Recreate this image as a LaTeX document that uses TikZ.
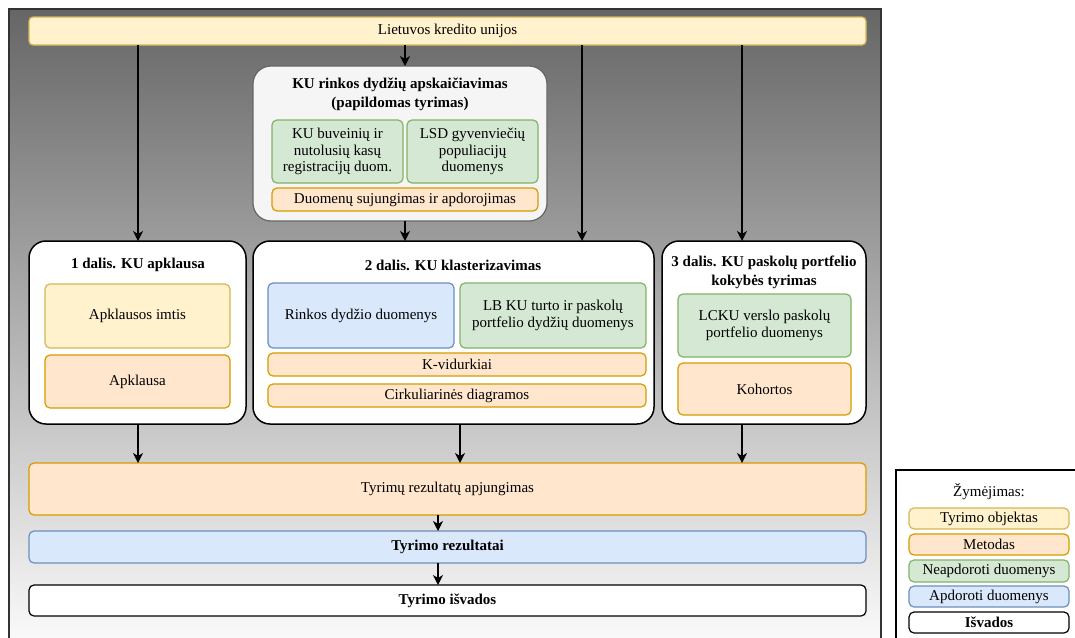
\documentclass[tikz,border=0pt]{standalone}
\usepackage{fontspec}
\setmainfont{Liberation Serif}
\usetikzlibrary{arrows.meta}

\definecolor{yfill}{HTML}{FFF2CC}\definecolor{ydraw}{HTML}{D6B656}
\definecolor{ofill}{HTML}{FFE6CC}\definecolor{odraw}{HTML}{D79B00}
\definecolor{gfill}{HTML}{D5E8D4}\definecolor{gdraw}{HTML}{82B366}
\definecolor{bfill}{HTML}{DAE8FC}\definecolor{bdraw}{HTML}{6C8EBF}
\definecolor{cfill}{HTML}{F5F5F5}\definecolor{cdraw}{HTML}{666666}
\definecolor{framecol}{HTML}{333333}

\begin{document}
\begin{tikzpicture}[x=1pt,y=-1pt,
  txt/.style={font=\fontsize{15}{17}\selectfont, align=center},
  ttl/.style={font=\fontsize{15}{19}\selectfont\bfseries, align=center, inner sep=0pt},
  box/.style={txt, rounded corners=5pt, line width=1.2pt, inner sep=0pt, outer sep=0pt, anchor=north west},
  ybox/.style={box, fill=yfill, draw=ydraw},
  obox/.style={box, fill=ofill, draw=odraw},
  gbox/.style={box, fill=gfill, draw=gdraw},
  bbox/.style={box, fill=bfill, draw=bdraw},
  wbox/.style={box, fill=white, draw=black},
  part/.style={box, fill=white, draw=black, line width=1.5pt, rounded corners=17pt},
  arr/.style={-{Stealth[length=10pt,width=10pt,inset=3pt]}, line width=1.2pt, black},
  sz/.style 2 args={minimum width=#1pt, minimum height=#2pt}
]
\path[use as bounding box] (0,0) rectangle (1075,637);
\clip (0,0) rectangle (1075,637);

% background frame with vertical gradient
\draw[framecol, line width=1.5pt, top color=cdraw, bottom color=white] (9,9) rectangle (881,662);

% top object
\node[ybox, sz={837}{28}, rounded corners=4pt] (lku) at (29,17) {Lietuvos kredito unijos};

% market size sub-study
\node[box, fill=cfill, draw=cdraw, rounded corners=18pt, sz={294}{155}] (rinka) at (253,66) {};
\node[ttl] (rinkat) at (400,94) {KU rinkos dydžių apskaičiavimas\\(papildomas tyrimas)};
\node[gbox, sz={131}{63}, font=\fontsize{15}{16.5}\selectfont] (g1) at (272,120) {KU buveinių ir\\nutolusių kasų\\registracijų duom.};
\node[gbox, sz={131}{63}, font=\fontsize{15}{16.5}\selectfont] (g2) at (407,120) {LSD gyvenviečių\\populiacijų\\duomenys};
\node[obox, sz={266}{23}] (sj) at (272,188) {Duomenų sujungimas ir apdorojimas};

% part 1
\node[part, sz={217}{183}] (d1) at (29,241) {};
\node[ttl] (d1t) at (138,265) {1 dalis. KU apklausa};
\node[ybox, sz={185}{64}] (imt) at (45,284) {Apklausos imtis};
\node[obox, sz={185}{53}] (apk) at (45,355) {Apklausa};

% part 2
\node[part, sz={401}{183}] (d2) at (253,241) {};
\node[ttl] (d2t) at (453,265) {2 dalis. KU klasterizavimas};
\node[bbox, sz={186}{65}] (rd) at (268,283) {Rinkos dydžio duomenys};
\node[gbox, sz={186}{65}] (lb) at (460,283) {LB KU turto ir paskolų\\portfelio dydžių duomenys};
\node[obox, sz={378}{23}] (kv) at (268,353) {K-vidurkiai};
\node[obox, sz={378}{23}] (cd) at (268,384) {Cirkuliarinės diagramos};

% part 3
\node[part, sz={204}{183}] (d3) at (662,241) {};
\node[ttl] (d3t) at (764,272) {3 dalis. KU paskolų portfelio\\kokybės tyrimas};
\node[gbox, sz={173}{63}] (lc) at (678,294) {LCKU verslo paskolų\\portfelio duomenys};
\node[obox, sz={173}{52}] (koh) at (678,363) {Kohortos};

% results
\node[obox, sz={837}{52}] (apj) at (29,463) {Tyrimų rezultatų apjungimas};
\node[bbox, sz={837}{32}, font=\fontsize{15}{17}\selectfont\bfseries] (rez) at (29,531) {Tyrimo rezultatai};
\node[wbox, sz={837}{31}, font=\fontsize{15}{17}\selectfont\bfseries] (isv) at (29,585) {Tyrimo išvados};

% connector columns
\coordinate (c1) at (138,0);
\coordinate (c2) at (405,0);
\coordinate (c3) at (582,0);
\coordinate (c4) at (742,0);
\coordinate (c5) at (460,0);
\coordinate (c6) at (438,0);

\draw[arr] (lku.south -| c1) -- (d1.north -| c1);
\draw[arr] (lku.south -| c2) -- (rinka.north -| c2);
\draw[arr] (rinka.south -| c2) -- (d2.north -| c2);
\draw[arr] (lku.south -| c3) -- (d2.north -| c3);
\draw[arr] (lku.south -| c4) -- (d3.north -| c4);
\draw[arr] (d1.south -| c1) -- (apj.north -| c1);
\draw[arr] (d2.south -| c5) -- (apj.north -| c5);
\draw[arr] (d3.south -| c4) -- (apj.north -| c4);
\draw[arr] (apj.south -| c6) -- (rez.north -| c6);
\draw[arr] (rez.south -| c6) -- (isv.north -| c6);

% legend
\draw[black, line width=1.5pt, fill=white] (896,470) rectangle (1090,660);
\node[txt] (lgt) at (989,492) {Žymėjimas:};
\node[ybox, sz={160}{21}] (l1) at (909,508) {Tyrimo objektas};
\node[obox, sz={160}{21}] (l2) at (909,534) {Metodas};
\node[gbox, sz={160}{22}] (l3) at (909,560) {Neapdoroti duomenys};
\node[bbox, sz={160}{21}] (l4) at (909,586) {Apdoroti duomenys};
\node[wbox, sz={160}{21}, font=\fontsize{15}{17}\selectfont\bfseries] (l5) at (909,612) {Išvados};
\end{tikzpicture}
\end{document}
